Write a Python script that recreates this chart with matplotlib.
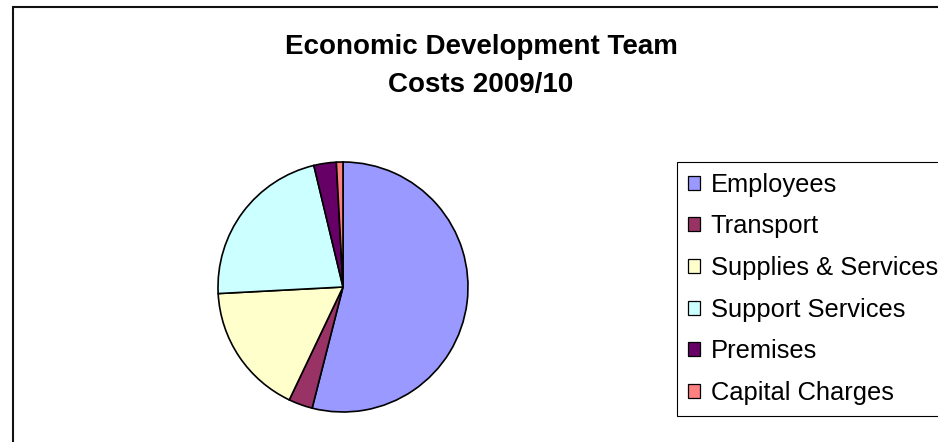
import matplotlib
matplotlib.use("Agg")
import matplotlib.pyplot as plt
from matplotlib.patches import Rectangle

# Cost breakdown (percent of total)
categories = ["Employees", "Transport", "Supplies & Services",
              "Support Services", "Premises", "Capital Charges"]
shares = [54.0, 3.1, 17.1, 22.1, 2.9, 0.85]
colors = ["#9999FF", "#993366", "#FFFFCC", "#CCFFFF", "#660066", "#FF8080"]
title_lines = ["Economic Development Team", "Costs 2009/10"]

W, H, DPI = 938, 442, 100
fig = plt.figure(figsize=(W / DPI, H / DPI), dpi=DPI)
fig.patch.set_facecolor("white")

def px(x, y):
    """Pixel position (from top-left) to figure fraction."""
    return x / W, 1 - y / H

# Chart-area border (extends past right and bottom edges)
x0, y0 = px(13, 7)
fig.patches.append(Rectangle((x0, -0.1), 1.2, y0 + 0.1, transform=fig.transFigure,
                             fill=False, edgecolor="#111111", linewidth=1.5,
                             zorder=0))

# Title
font = "Liberation Sans"
tx, ty = px(481, 47)
fig.text(tx, ty, title_lines[0], ha="center", va="center", fontsize=20,
         fontweight="bold", family=font)
tx, ty = px(481, 85)
fig.text(tx, ty, title_lines[1], ha="center", va="center", fontsize=20,
         fontweight="bold", family=font)

# Pie axes centred at (343, 287) px, radius 125 px
r = 125
pad = 5
left, top = 343 - r - pad, 287 - r - pad
size = 2 * (r + pad)
ax = fig.add_axes([left / W, 1 - (top + size) / H, size / W, size / H])
wedges, _ = ax.pie(shares, colors=colors, startangle=90, counterclock=False,
                   radius=1.0,
                   wedgeprops=dict(edgecolor="black", linewidth=1.2))
lim = (r + pad) / r
ax.set_xlim(-lim, lim)
ax.set_ylim(-lim, lim)
ax.set_aspect("equal")
ax.axis("off")

# Legend
lx, ly = px(677, 162)
leg = fig.legend(wedges, categories, loc="upper left", bbox_to_anchor=(lx, ly),
                 bbox_transform=fig.transFigure, borderaxespad=0,
                 frameon=True, fancybox=False, shadow=False,
                 prop=dict(family=font, size=18.4),
                 handlelength=0.47, handleheight=0.47, handletextpad=0.43,
                 labelspacing=0.69, borderpad=0.42)
frame = leg.get_frame()
frame.set_edgecolor("black")
frame.set_linewidth(0.8)
frame.set_alpha(1)
for h in leg.legend_handles:
    h.set_linewidth(0.9)

fig.savefig("out.png", dpi=DPI)
